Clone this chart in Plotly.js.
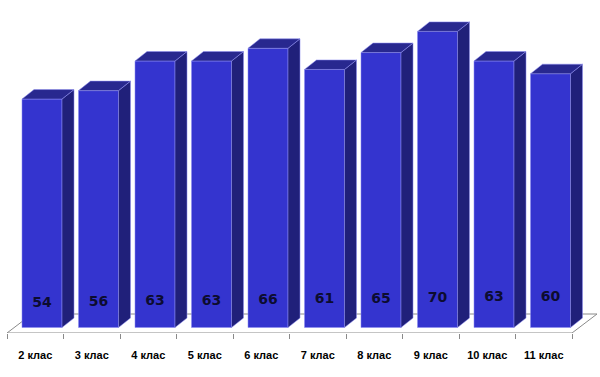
<!DOCTYPE html>
<html>
<head>
<meta charset="utf-8">
<script src="https://cdn.plot.ly/plotly-3.0.1.min.js"></script>
<style>html,body{margin:0;padding:0;background:#fff;}#chart{width:600px;height:377px;}</style>
</head>
<body>
<div id="chart"></div>
<script>
// ---- data ----
const categories = ["2 клас","3 клас","4 клас","5 клас","6 клас","7 клас","8 клас","9 клас","10 клас","11 клас"];
const values = [54, 56, 63, 63, 66, 61, 65, 70, 63, 60];

// ---- geometry (style) ----
const pxPerX = 56.5;            // pixels per category
const pxPerY = 4.23;            // pixels per value unit
const barW = 40 / pxPerX;       // front face width
const shift = 6.75 / pxPerX;    // bar shifted back/right from the floor front
const dx = 12 / pxPerX;         // depth offset x
const dy = 9.5 / pxPerY;        // depth offset y
const floorDx = 25 / pxPerX;
const yMin = -1.30, yMax = 77.42;
const floorBack = 3.19;

const idx = categories.map((c, i) => i);
const frontCol = '#3434CF', topCol = '#28288F', sideCol = '#20207A', edgeCol = 'rgba(140,140,240,0.9)';

const traces = [];
// side faces
const sx = [], sy = [];
const tx = [], ty = [];
idx.forEach(i => {
  const x0 = i + shift - barW / 2, x1 = i + shift + barW / 2, v = values[i];
  sx.push(x1, x1, x1 + dx, x1 + dx, x1, null);
  sy.push(0, v, v + dy, dy, 0, null);
  tx.push(x0, x1, x1 + dx, x0 + dx, x0, null);
  ty.push(v, v, v + dy, v + dy, v, null);
});
traces.push({type:'scatter', x:sx, y:sy, mode:'lines', fill:'toself', fillcolor:sideCol,
  line:{color:edgeCol, width:0.6}, hoverinfo:'skip', showlegend:false});
traces.push({type:'scatter', x:tx, y:ty, mode:'lines', fill:'toself', fillcolor:topCol,
  line:{color:edgeCol, width:0.6}, hoverinfo:'skip', showlegend:false});
// front faces
traces.push({type:'bar', x:idx.map(i => i + shift), y:values, width:barW,
  marker:{color:frontCol, line:{color:edgeCol, width:0.6}}, hoverinfo:'skip', showlegend:false});
// value labels
traces.push({type:'scatter', mode:'text', x:idx.map(i => i + shift),
  y:idx.map(i => (24.5 + 0.65 * i) / pxPerY), text:values.map(v => '<b>' + v + '</b>'),
  textfont:{family:'"DejaVu Sans", Verdana, sans-serif', size:14, color:'#0c0c30'},
  textposition:'middle center', hoverinfo:'skip', showlegend:false});

const n = categories.length;
const floorPath = `M ${-0.5} ${yMin} L ${n - 0.5} ${yMin} L ${n - 0.5 + floorDx} ${floorBack} L ${-0.5 + floorDx} ${floorBack} Z`;

const layout = {
  width:600, height:377,
  margin:{l:0, r:0, t:0, b:44},
  paper_bgcolor:'#fff', plot_bgcolor:'#fff',
  bargap:0,
  xaxis:{type:'linear', range:[-0.6239, 9.9956], showgrid:false, zeroline:false, showline:false,
    tickvals:idx, ticktext:categories, ticks:'outside', ticklen:12, tickcolor:'rgba(0,0,0,0)',
    tickfont:{family:'Liberation Sans, Arial, sans-serif', size:11, color:'#000', weight:'bold'},
    minor:{tickvals:idx.concat([n]).map(i => i - 0.5), ticks:'outside', ticklen:5, tickcolor:'#8a8a8a', tickwidth:1},
    fixedrange:true},
  yaxis:{range:[yMin, yMax], visible:false, showgrid:false, zeroline:false, fixedrange:true},
  shapes:[{type:'path', path:floorPath, xref:'x', yref:'y', layer:'below',
    fillcolor:'#fff', line:{color:'#8a8a8a', width:1}}],
  showlegend:false
};

Plotly.newPlot('chart', traces, layout, {displayModeBar:false, staticPlot:true});
</script>
</body>
</html>
